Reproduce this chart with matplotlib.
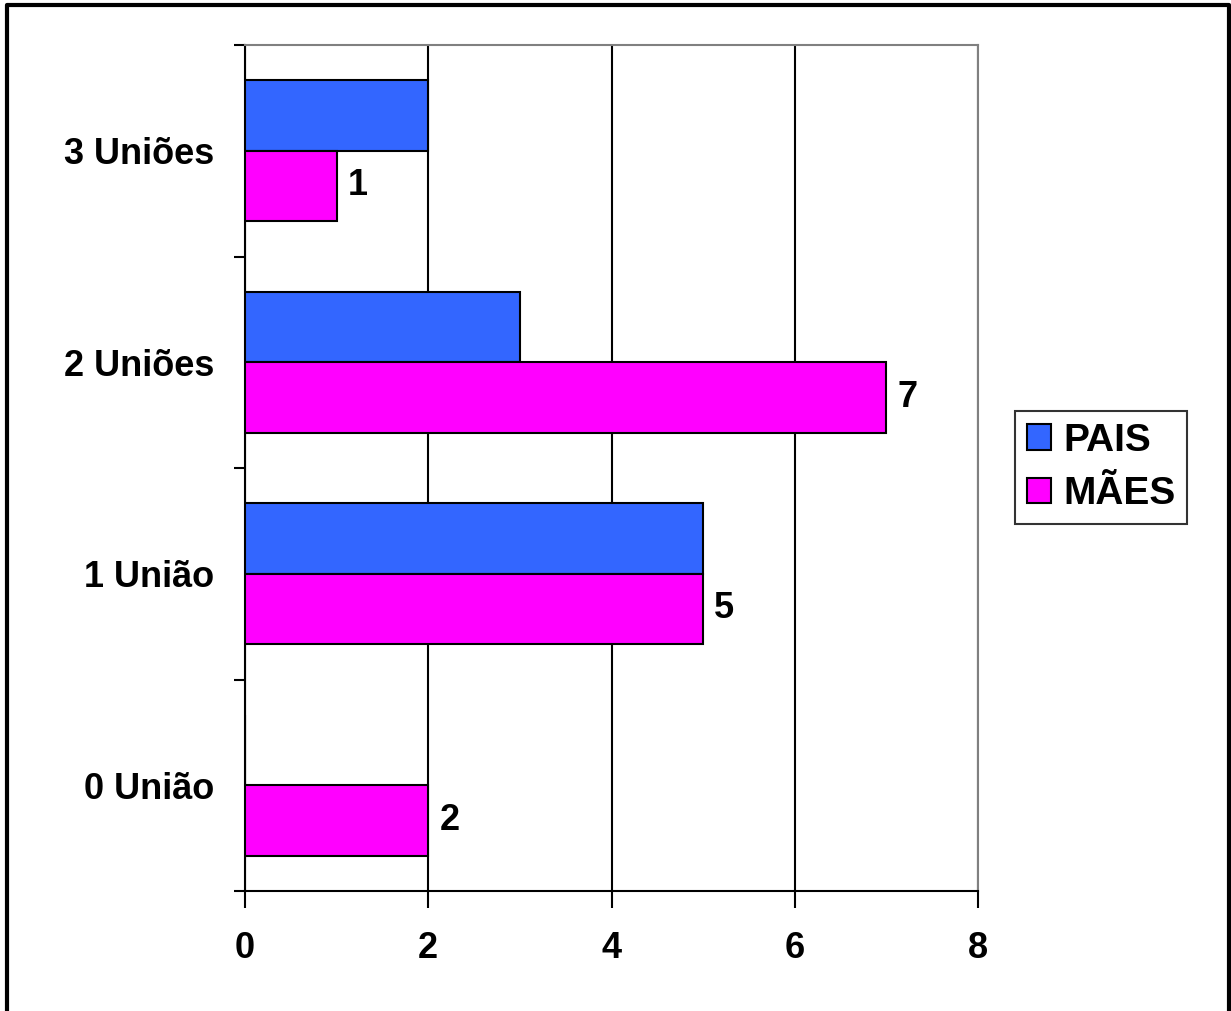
import matplotlib.pyplot as plt
import numpy as np
from matplotlib.lines import Line2D

categorias = ['0 União', '1 União', '2 Uniões', '3 Uniões']
pais = [0, 5, 3, 2]
maes = [2, 5, 7, 1]
xticks = [0, 2, 4, 6, 8]

plt.rcParams['font.family'] = ['Liberation Sans', 'DejaVu Sans']
plt.rcParams['font.weight'] = 'bold'

fig = plt.figure(figsize=(12.31, 10.11), dpi=100)
ax = fig.add_axes([245 / 1231, 1 - 891 / 1011, (978 - 245) / 1231, (891 - 45) / 1011])

y = np.arange(len(categorias))
h = 1 / 3
ax.barh(y + h / 2, pais, height=h, color='#3366FF', edgecolor='black', linewidth=1.5, label='PAIS', zorder=3)
barras_maes = ax.barh(y - h / 2, maes, height=h, color='#FF00FF', edgecolor='black', linewidth=1.5, label='MÃES', zorder=3)
ax.bar_label(barras_maes, labels=[str(v) for v in maes], padding=8, fontsize=26, fontweight='bold')

ax.set_xlim(0, 8)
ax.set_ylim(-0.5, 3.5)
ax.set_xticks(xticks)
ax.set_xticklabels([str(t) for t in xticks], fontsize=26, fontweight='bold')
ax.set_yticks(y)
ax.set_yticklabels(categorias, fontsize=26, fontweight='bold')
ax.set_yticks(np.arange(-0.5, 4, 1), minor=True)
ax.tick_params(axis='y', which='major', length=0, pad=22)
ax.tick_params(axis='y', which='minor', length=8, width=1.5, direction='out')
ax.tick_params(axis='x', length=12, width=1.5, direction='out', pad=17)

ax.xaxis.grid(True, color='black', linewidth=1.5, zorder=0)
ax.set_axisbelow(True)
for lado in ['top', 'right']:
    ax.spines[lado].set_color('gray')
    ax.spines[lado].set_linewidth(1.5)
for lado in ['left', 'bottom']:
    ax.spines[lado].set_linewidth(1.5)

leg = fig.legend(loc='upper left', bbox_to_anchor=(1015 / 1231, 1 - 411 / 1011), fontsize=28,
                 frameon=True, fancybox=False, edgecolor='black', handlelength=0.62, handleheight=0.62,
                 handletextpad=0.32, borderpad=0.3, labelspacing=0.45, borderaxespad=0)
leg.get_frame().set_linewidth(1.5)

# moldura externa
fig.add_artist(Line2D([7 / 1231, 7 / 1231, 1229 / 1231, 1229 / 1231], [0, 1 - 5 / 1011, 1 - 5 / 1011, 0],
                      transform=fig.transFigure, color='black', linewidth=3))

fig.savefig('out.png', dpi=100)
